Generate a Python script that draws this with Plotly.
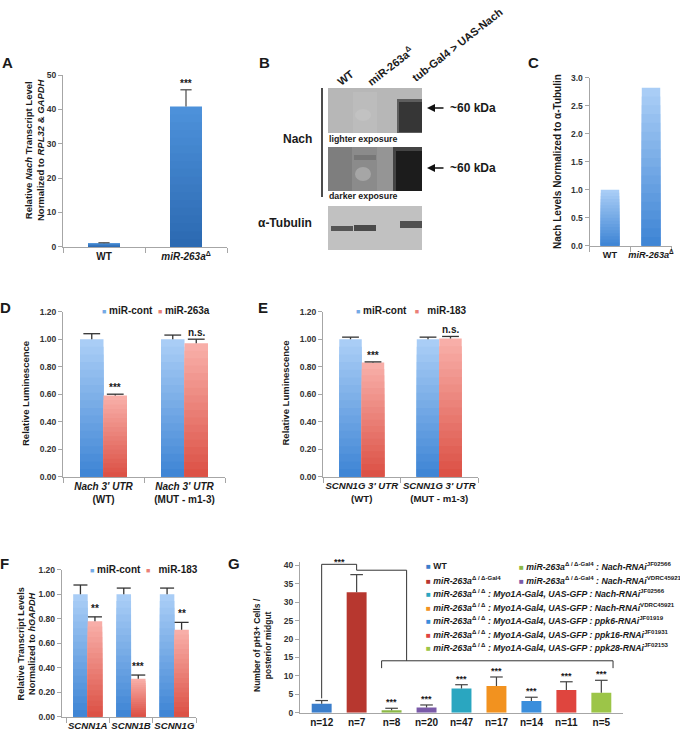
import plotly.graph_objects as go

W, H = 680, 731
FONT = "Liberation Sans, Arial, sans-serif"
AX = "#a6a6a6"
TXT = "#1a1a1a"


def px(x):
    return x / W


def py(y):
    return 1 - y / H


# ---------------- data ----------------
a_labels = ["WT", "<i>miR-263a</i><sup>Δ</sup>"]
a_vals = [1.0, 40.8]
a_err = [0.15, 4.9]
a_sig = ["", "***"]

c_labels = ["WT", "<i>miR-263a</i><sup>Δ</sup>"]
c_vals = [1.0, 2.82]

d_labels = ["<i>Nach 3' UTR</i><br>(WT)", "<i>Nach 3' UTR</i><br>(MUT - m1-3)"]
d_series = ["miR-cont", "miR-263a"]
d_cont = [1.00, 1.00]
d_cont_err = [0.04, 0.03]
d_mir = [0.59, 0.97]
d_mir_err = [0.01, 0.03]
d_sig = ["***", "n.s."]

e_labels = ["<i>SCNN1G 3' UTR</i><br>(WT)", "<i>SCNN1G 3' UTR</i><br>(MUT - m1-3)"]
e_series = ["miR-cont", "miR-183"]
e_cont = [1.00, 1.00]
e_cont_err = [0.015, 0.015]
e_mir = [0.83, 1.005]
e_mir_err = [0.005, 0.015]
e_sig = ["***", "n.s."]

f_labels = ["<i>SCNN1A</i>", "<i>SCNN1B</i>", "<i>SCNN1G</i>"]
f_series = ["miR-cont", "miR-183"]
f_cont = [1.00, 1.00, 1.00]
f_cont_err = [0.075, 0.05, 0.05]
f_mir = [0.78, 0.31, 0.71]
f_mir_err = [0.035, 0.03, 0.06]
f_sig = ["**", "***", "**"]

g_labels = ["n=12", "n=7", "n=8", "n=20", "n=47", "n=17", "n=14", "n=11", "n=5"]
g_vals = [2.4, 32.7, 0.65, 1.4, 6.6, 7.25, 3.2, 6.15, 5.4]
g_err = [0.9, 4.8, 0.55, 0.7, 1.0, 2.45, 1.0, 2.25, 3.4]
g_sig = ["", "", "***", "***", "***", "***", "***", "***", "***"]
g_names = [
    "WT",
    "<i>miR-263a</i><sup>Δ / Δ-Gal4</sup>",
    "<i>miR-263a</i><sup>Δ / Δ-Gal4</sup><i> : Nach-RNAi</i><sup>JF02566</sup>",
    "<i>miR-263a</i><sup>Δ / Δ-Gal4</sup><i> : Nach-RNAi</i><sup>VDRC45921</sup>",
    "<i>miR-263a</i><sup>Δ / Δ</sup><i> : Myo1A-Gal4, UAS-GFP : Nach-RNAi</i><sup>JF02566</sup>",
    "<i>miR-263a</i><sup>Δ / Δ</sup><i> : Myo1A-Gal4, UAS-GFP : Nach-RNAi</i><sup>VDRC45921</sup>",
    "<i>miR-263a</i><sup>Δ / Δ</sup><i> : Myo1A-Gal4, UAS-GFP : ppk6-RNAi</i><sup>JF01919</sup>",
    "<i>miR-263a</i><sup>Δ / Δ</sup><i> : Myo1A-Gal4, UAS-GFP : ppk16-RNAi</i><sup>JF01931</sup>",
    "<i>miR-263a</i><sup>Δ / Δ</sup><i> : Myo1A-Gal4, UAS-GFP : ppk28-RNAi</i><sup>JF02153</sup>",
]
g_colors = ["#3b7ecb", "#b7372f", "#8cb846", "#7a5aa8", "#2aa6c0",
            "#f2921f", "#3a8edc", "#df453e", "#9cc548"]

# gradient colours (top -> bottom)
BLUE_GRAD = ("#a9cdf6", "#4086d5")
RED_GRAD = ("#f8aea8", "#dc5246")
A_GRAD = ("#4d91da", "#2c6ab2")


def hex2rgb(h):
    h = h.lstrip("#")
    return tuple(int(h[i:i + 2], 16) for i in (0, 2, 4))


def mix(c1, c2, t):
    a, b = hex2rgb(c1), hex2rgb(c2)
    return "rgb(%d,%d,%d)" % tuple(round(a[i] + (b[i] - a[i]) * t) for i in range(3))


def grad_bars(xs, vals, width, grad, xa, ya, n=18):
    out = []
    for k in range(n):
        frac = 1 - k / n
        out.append(go.Bar(
            x=xs, y=[v * frac for v in vals], width=width,
            marker=dict(color=mix(grad[0], grad[1], k / (n - 1)), line=dict(width=0)),
            xaxis=xa, yaxis=ya, showlegend=False, hoverinfo="skip"))
    return out


def err_trace(xs, vals, errs, xa, ya, cap, color="#333333", thick=1.3):
    return go.Scatter(
        x=xs, y=[v + e for v, e in zip(vals, errs)], mode="markers",
        marker=dict(symbol="line-ew", size=cap, line=dict(width=thick, color=color)),
        error_y=dict(type="data", symmetric=False, array=[0] * len(vals),
                     arrayminus=errs, width=0, thickness=thick, color=color),
        xaxis=xa, yaxis=ya, showlegend=False, hoverinfo="skip", cliponaxis=False)


fig = go.Figure()

# ---- A ----
ax_idx = list(range(len(a_vals)))
for t in grad_bars(ax_idx, a_vals, 0.39, A_GRAD, "x", "y"):
    fig.add_trace(t)
fig.add_trace(err_trace(ax_idx, a_vals, a_err, "x", "y", 8, "#555555"))

# ---- C ----
cx_idx = list(range(len(c_vals)))
for t in grad_bars(cx_idx, c_vals, 0.45, BLUE_GRAD, "x2", "y2"):
    fig.add_trace(t)


# ---- D, E, F grouped ----
def grouped(cont, cont_err, mir, mir_err, half, xa, ya, cap):
    idx = list(range(len(cont)))
    xb = [i - half / 2 for i in idx]
    xr = [i + half / 2 for i in idx]
    for t in grad_bars(xb, cont, half, BLUE_GRAD, xa, ya):
        fig.add_trace(t)
    for t in grad_bars(xr, mir, half, RED_GRAD, xa, ya):
        fig.add_trace(t)
    fig.add_trace(err_trace(xb, cont, cont_err, xa, ya, cap))
    fig.add_trace(err_trace(xr, mir, mir_err, xa, ya, cap))
    return xr


d_xr = grouped(d_cont, d_cont_err, d_mir, d_mir_err, 0.29, "x3", "y3", 12)
e_xr = grouped(e_cont, e_cont_err, e_mir, e_mir_err, 0.29, "x4", "y4", 12)
f_xr = grouped(f_cont, f_cont_err, f_mir, f_mir_err, 0.335, "x5", "y5", 10)

# ---- G ----
gx = list(range(len(g_vals)))
fig.add_trace(go.Bar(x=gx, y=g_vals, width=0.57,
                     marker=dict(color=g_colors, line=dict(width=0)),
                     xaxis="x6", yaxis="y6", showlegend=False, hoverinfo="skip"))
fig.add_trace(err_trace(gx, g_vals, g_err, "x6", "y6", 9, "#444444", 1.2))

# ---------------- axes ----------------
TICKF = dict(family=FONT, size=8.5, color="#333333", weight="bold")


def yax(top, bot, rng, tickvals, fmt, anchor):
    return dict(domain=[py(bot), py(top)], range=rng, tickmode="array",
                tickvals=tickvals, tickformat=fmt, showline=True, linecolor=AX,
                linewidth=1, ticks="outside", ticklen=4, tickcolor=AX, tickfont=TICKF,
                showgrid=False, zeroline=False, anchor=anchor, fixedrange=True,
                automargin=False)


def xax(left, right, rng, labels, anchor, boundary=True, size=10):
    n = len(labels)
    d = dict(domain=[px(left), px(right)], range=rng, tickmode="array",
             tickvals=list(range(n)), ticktext=labels, showline=True, linecolor=AX,
             linewidth=1, ticks="", tickangle=0, automargin=False,
             tickfont=dict(family=FONT, size=size, color=TXT, weight="bold"),
             showgrid=False, zeroline=False, anchor=anchor, fixedrange=True)
    if boundary:
        d["minor"] = dict(tickmode="array", tickvals=[i - 0.5 for i in range(n + 1)],
                          ticks="outside", ticklen=5, tickcolor=AX, showgrid=False)
    return d


def steps(a, b, s):
    out, v = [], a
    while v <= b + 1e-9:
        out.append(round(v, 4))
        v += s
    return out


fig.update_layout(
    xaxis=xax(63, 227, [-0.5, 1.5], a_labels, "y"),
    yaxis=yax(75, 246.7, [0, 50], steps(0, 50, 10), "d", "x"),
    xaxis2=xax(589.5, 671.5, [-0.5, 1.5], c_labels, "y2", size=9.2),
    yaxis2=yax(77.7, 245.7, [0, 3], steps(0, 3, 0.5), ".1f", "x2"),
    xaxis3=xax(63, 225, [-0.5, 1.5], d_labels, "y3"),
    yaxis3=yax(311.7, 476.7, [0, 1.2], steps(0, 1.2, 0.2), ".2f", "x3"),
    xaxis4=xax(323, 478, [-0.5, 1.5], e_labels, "y4", size=9.6),
    yaxis4=yax(311.7, 476.7, [0, 1.2], steps(0, 1.2, 0.2), ".2f", "x4"),
    xaxis5=xax(61.7, 196, [-0.6, 2.5], f_labels, "y5", size=9.6),
    yaxis5=yax(569.7, 716.7, [0, 1.2], steps(0, 1.2, 0.2), ".2f", "x5"),
    xaxis6=xax(300, 623, [-0.62, 8.62], g_labels, "y6", boundary=False),
    yaxis6=yax(712.7 - 41 * 3.682, 712.7, [0, 41], steps(0, 40, 5), "d", "x6"),
)

# ---------------- annotations ----------------
ann = []


def text(x, y, s, size=10, xanchor="center", yanchor="middle", angle=0, color=TXT,
         bold=True):
    ann.append(dict(x=px(x), y=py(y), xref="paper", yref="paper", text=s,
                    showarrow=False, xanchor=xanchor, yanchor=yanchor,
                    textangle=angle, borderpad=0,
                    font=dict(family=FONT, size=size, color=color,
                              weight="bold" if bold else "normal")))


# panel letters
for L, x, y in [("A", 7, 62), ("B", 264, 62), ("C", 533, 62), ("D", 5, 307),
                ("E", 263, 307), ("F", 4, 563), ("G", 234, 563)]:
    text(x, y, L, size=15)

# y-axis titles
text(34, 150, "Relative <i>Nach</i> Transcript Level<br>Normalized to <i>RPL32</i> & <i>GAPDH</i>",
     size=9.5, angle=-90)
text(558, 162, "Nach Levels Normalized to α-Tubulin", size=10, angle=-90)
text(25, 394, "Relative Luminescence", size=9.5, angle=-90)
text(284.5, 393, "Relative Luminescence", size=9.5, angle=-90)
text(26.5, 644, "Relative Transcript Levels<br>Normalized to <i>hGAPDH</i>", size=9.2, angle=-90)
text(262, 645, "Number of pH3+ Cells /<br>posterior midgut", size=8.5, angle=-90)


# significance marks
def sig(xs, vals, errs, sigs, xa, ya, size=10, shift=0):
    for x, v, e, s in zip(xs, vals, errs, sigs):
        if s:
            ann.append(dict(x=x, y=v + e, xref=xa, yref=ya, text=s, showarrow=False,
                            yanchor="bottom", yshift=shift,
                            font=dict(family=FONT, size=size, color=TXT, weight="bold")))


sig(ax_idx, a_vals, a_err, a_sig, "x", "y", 10, -1)
sig(d_xr, d_mir, d_mir_err, d_sig, "x3", "y3", 10, -1)
sig(e_xr, e_mir, e_mir_err, e_sig, "x4", "y4", 10, -1)
sig(f_xr, f_mir, f_mir_err, f_sig, "x5", "y5", 10, 1)
sig(gx, g_vals, g_err, g_sig, "x6", "y6", 9, -1)


# legends (D, E, F)
def sq(color, size=7):
    return '<span style="color:%s;font-size:%dpx">■</span>' % (color, size)


BL, RD = mix(*BLUE_GRAD, 0.5), mix(*RED_GRAD, 0.5)
text(101, 310, sq(BL) + " " + d_series[0] + "  " + sq(RD) + " " + d_series[1],
     size=10, xanchor="left")
text(355, 310, sq(BL) + " " + e_series[0] + "   " + sq(RD) + "   " + e_series[1],
     size=10, xanchor="left")
text(89, 569, sq(BL) + " " + f_series[0] + "  " + sq(RD) + "   " + f_series[1],
     size=10, xanchor="left")

# legend G
left_rows = [0, 1, 4, 5, 6, 7, 8]
right_rows = [2, 3]
row_y = [566, 579.5, 593, 606.5, 620, 633.5, 647]
for r, i in enumerate(left_rows):
    text(425, row_y[r], sq(g_colors[i], 8) + " " + g_names[i], size=8.7, xanchor="left")
for r, i in enumerate(right_rows):
    text(518, row_y[r], sq(g_colors[i], 8) + " " + g_names[i], size=8.7, xanchor="left")

# G significance brackets
top_y = g_vals[1] + g_err[1] + 2.8
mid_y = g_vals[1] + g_err[1] + 1.2
low_y = 14.1
drop = 2.0
w2 = 0.57 / 2
x_join = 2.43
shapes = []
LN = dict(color="#333333", width=1)
shapes.append(dict(type="path", xref="x6", yref="y6", line=LN,
                   path="M 0,%f V %f H 1 V %f" % (g_vals[0] + g_err[0] + 0.6, top_y, mid_y)))
shapes.append(dict(type="path", xref="x6", yref="y6", line=LN,
                   path="M 1,%f H %f V %f" % (mid_y, x_join, low_y)))
shapes.append(dict(type="path", xref="x6", yref="y6", line=LN,
                   path="M %f,%f V %f H %f V %f" % (2 - w2, low_y - drop, low_y,
                                                  8 + w2 + 0.05, low_y - drop)))
ann.append(dict(x=0.5, y=top_y, xref="x6", yref="y6", text="***", showarrow=False,
                yanchor="bottom", yshift=-5,
                font=dict(family=FONT, size=9, color=TXT, weight="bold")))

# ---------------- panel B (western blot schematic) ----------------


def rect(x0, y0, x1, y1, fill, kind="rect"):
    shapes.append(dict(type=kind, xref="paper", yref="paper", x0=px(x0), x1=px(x1),
                       y0=py(y1), y1=py(y0), fillcolor=fill, line=dict(width=0),
                       layer="above"))


# lighter exposure blot
rect(328, 88, 422, 133, "#b7b7b7")
rect(353, 92, 377, 133, "#bcbcbc")
rect(355, 109, 371, 121, "#c2c2c2", "circle")
rect(397, 99, 422, 133, "#5e5e5e")
rect(399, 102, 422, 132, "#363636")
# darker exposure blot
rect(328, 147, 422, 191, "#8b8b8b")
rect(328, 147, 352, 191, "#7e7e7e")
rect(377, 147, 396, 191, "#959595")
rect(354, 155, 376, 160, "#777777")
rect(355, 167, 371, 181, "#a6a6a6", "circle")
rect(393, 147, 422, 191, "#444444")
rect(396, 151, 422, 191, "#1c1c1c")
# tubulin blot
rect(328, 206, 422, 250, "#c1c1c1")
rect(331, 226, 353, 231, "#555555")
rect(354, 225, 376, 231, "#4a4a4a")
rect(400, 221, 422, 228, "#505050")
# bracket line for Nach
shapes.append(dict(type="line", xref="paper", yref="paper", x0=px(322), x1=px(322),
                   y0=py(88), y1=py(197), line=dict(color="#111111", width=1.5)))

text(313, 139, "Nach", size=12, xanchor="right")
text(313, 223, "α-Tubulin", size=12, xanchor="right")
text(328, 139, "lighter exposure", size=8.8, xanchor="left")
text(328, 196, "darker exposure", size=8.8, xanchor="left")
for yy in (108, 168):
    ann.append(dict(x=px(427), y=py(yy), xref="paper", yref="paper", text="",
                    showarrow=True, ax=18, ay=0, arrowhead=2, arrowsize=1,
                    arrowwidth=1.6, arrowcolor="#111111", standoff=0))
    text(449, yy, "~60 kDa", size=12, xanchor="left")
text(345, 78, "WT", size=11, angle=-38)
text(390, 66, "miR-263a<sup>Δ</sup>", size=11, angle=-38)
text(457, 45, "tub-Gal4 > UAS-Nach", size=11, angle=-38)

fig.update_layout(
    width=W, height=H, autosize=False, margin=dict(l=0, r=0, t=0, b=0),
    paper_bgcolor="white", plot_bgcolor="white", barmode="overlay",
    showlegend=False, annotations=ann, shapes=shapes,
    font=dict(family=FONT, color=TXT),
)

fig.write_html(
    "out.html",
    config={"displayModeBar": False, "staticPlot": True},
    post_script="document.body.style.margin='0px';document.body.style.padding='0px';"
                "document.body.style.overflow='hidden';",
)
